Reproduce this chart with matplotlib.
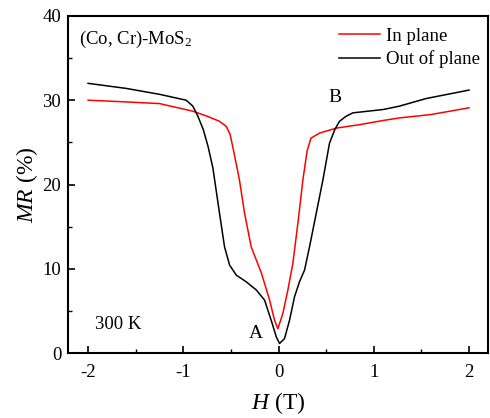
import matplotlib.pyplot as plt
import numpy as np
from matplotlib.ticker import MultipleLocator

plt.rcParams['font.family'] = ['Liberation Serif', 'DejaVu Serif']
plt.rcParams['mathtext.fontset'] = 'custom'
plt.rcParams['mathtext.it'] = 'Liberation Serif:italic'
plt.rcParams['mathtext.rm'] = 'Liberation Serif'
plt.rcParams['axes.unicode_minus'] = False

# In plane (red)
h_in = [-2.0, -1.6, -1.25, -0.9, -0.75, -0.62, -0.55, -0.51, -0.47, -0.41, -0.357,
        -0.287, -0.18, -0.094, -0.042, -0.007, 0.045, 0.098, 0.15, 0.203, 0.255,
        0.30, 0.34, 0.43, 0.61, 0.85, 1.10, 1.27, 1.6, 2.0]
mr_in = [30.0, 29.8, 29.6, 28.7, 28.1, 27.5, 26.9, 26.0, 23.9, 20.5, 16.6,
         12.6, 9.5, 6.3, 3.9, 2.9, 4.7, 7.5, 10.65, 15.4, 20.5,
         24.0, 25.5, 26.1, 26.7, 27.1, 27.6, 27.9, 28.3, 29.1]

# Out of plane (black)
h_out = [-2.0, -1.6, -1.25, -0.97, -0.9, -0.847, -0.79, -0.74, -0.69, -0.62, -0.567,
         -0.514, -0.444, -0.34, -0.234, -0.147, -0.077, -0.024, 0.01, 0.063, 0.115,
         0.168, 0.22, 0.273, 0.325, 0.396, 0.465, 0.535, 0.59, 0.64, 0.71, 0.78,
         1.10, 1.27, 1.55, 2.0]
mr_out = [32.0, 31.4, 30.7, 30.0, 29.3, 28.1, 26.5, 24.5, 22.0, 16.6, 12.6,
          10.45, 9.26, 8.47, 7.5, 6.3, 3.9, 1.94, 1.15, 1.74, 3.9,
          6.7, 8.47, 9.86, 12.6, 16.6, 20.5, 24.9, 26.5, 27.5, 28.1, 28.5,
          28.9, 29.3, 30.2, 31.2]

fig, ax = plt.subplots(figsize=(4.9, 4.18), dpi=100)
plt.subplots_adjust(left=0.139, right=0.996, top=0.962, bottom=0.155)

ax.plot(h_in, mr_in, color='red', linewidth=1.1, label='In plane')
ax.plot(h_out, mr_out, color='black', linewidth=1.1, label='Out of plane')

ax.set_xlim(-2.21, 2.2)
ax.set_ylim(0, 40)
ax.xaxis.set_major_locator(MultipleLocator(1))
ax.xaxis.set_minor_locator(MultipleLocator(0.5))
ax.yaxis.set_major_locator(MultipleLocator(10))
ax.yaxis.set_minor_locator(MultipleLocator(5))
ax.tick_params(which='both', direction='in', labelsize=13.5)
ax.tick_params(which='major', length=5, width=1.2, pad=5)
ax.tick_params(axis='x', which='major', pad=8)
ax.tick_params(which='minor', length=3, width=1.0)
for s in ax.spines.values():
    s.set_linewidth(1.5)

ax.set_xlabel('$H$ (T)', fontsize=17, labelpad=6)
ax.set_ylabel('$MR$ (%)', fontsize=17, labelpad=2)

ax.text(0.025, 0.93, '(Co, Cr)-MoS$_2$', transform=ax.transAxes, fontsize=13.5,
        va='center', ha='left')
ax.text(0.065, 0.085, '300 K', transform=ax.transAxes, fontsize=13.5, va='center')
ax.text(-0.24, 2.3, 'A', fontsize=14, ha='center', va='center')
ax.text(0.59, 30.3, 'B', fontsize=14, ha='center', va='center')

ax.legend(loc='upper right', frameon=False, fontsize=13.5, handlelength=2.2,
          borderaxespad=0.05, labelspacing=0.3, handletextpad=0.3,
          bbox_to_anchor=(1.0, 0.99))

plt.savefig('out.png', dpi=100)
